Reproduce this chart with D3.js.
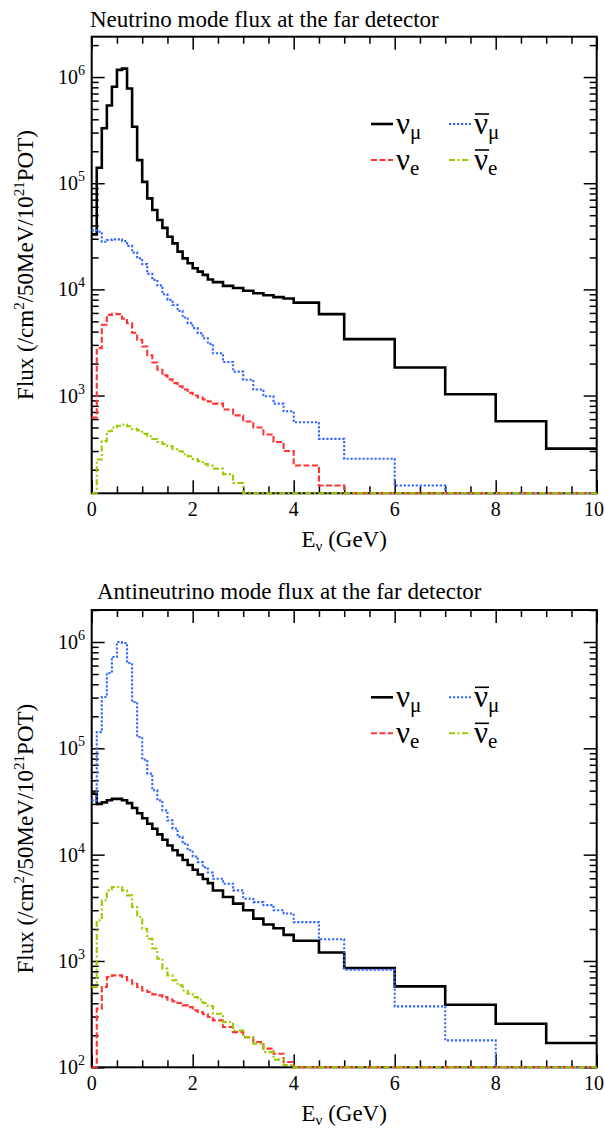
<!DOCTYPE html>
<html>
<head>
<meta charset="utf-8">
<script src="https://cdn.jsdelivr.net/npm/d3@7"></script>
<style>
  html, body { margin: 0; padding: 0; background: #fff; }
  svg { display: block; font-family: "Liberation Serif", "Times New Roman", serif; }
</style>
</head>
<body>
<svg id="chart" width="605" height="1130"></svg>
<script>
// Energy bin edges (GeV)
const binEdges = [0, 0.1, 0.2, 0.3, 0.4, 0.5, 0.6, 0.7, 0.8, 0.9, 1.0, 1.1, 1.2, 1.3, 1.4, 1.5,
  1.6, 1.7, 1.8, 1.9, 2.0, 2.1, 2.2, 2.3, 2.4, 2.6, 2.8, 3.0, 3.2, 3.4, 3.6, 3.8, 4.0, 4.5, 5, 6, 7, 8, 9, 10];

// Neutrino mode flux (/cm^2/50MeV/10^21 POT), one value per bin
const nuModeNumu = [3.3e4, 1.4e5, 3.3e5, 5.4e5, 8.1e5, 1.17e6, 1.2e6, 7.8e5, 3.4e5, 1.65e5,
  1.03e5, 7.2e4, 5.6e4, 4.5e4, 3.8e4, 3.13e4, 2.71e4, 2.27e4, 1.96e4, 1.76e4,
  1.58e4, 1.47e4, 1.37e4, 1.24e4,
  1.17e4, 1.08e4, 1.03e4, 9.7e3, 9.2e3, 8.8e3, 8.45e3, 8.2e3,
  7.5e3, 5.85e3, 3.4e3, 1.84e3, 1.03e3, 573, 316];
const nuModeNumubar = [3.6e4, 3.5e4, 2.81e4, 2.92e4, 2.96e4, 2.96e4, 2.85e4, 2.57e4, 2.22e4, 1.96e4,
  1.73e4, 1.4e4, 1.23e4, 1.09e4, 9.0e3, 7.96e3, 7.14e3, 6.28e3, 5.43e3, 4.81e3,
  4.32e3, 3.87e3, 3.47e3, 3.07e3,
  2.5e3, 2.07e3, 1.68e3, 1.41e3, 1.14e3, 984, 840, 711,
  560, 391, 254, 142, 0, 0, 0];
const nuModeNue = [620, 2.8e3, 4.64e3, 5.75e3, 5.9e3, 5.85e3, 5.3e3, 4.8e3, 3.9e3, 3.35e3,
  2.9e3, 2.4e3, 2.05e3, 1.75e3, 1.55e3, 1.42e3, 1.31e3, 1.22e3, 1.14e3, 1.06e3,
  1.0e3, 960, 920, 880,
  840, 740, 650, 570, 500, 430, 365, 300,
  219, 142, 0, 0, 0, 0, 0];
const nuModeNuebar = [0, 250, 372, 461, 500, 520, 533, 514, 485, 470,
  435, 414, 390, 365, 350, 334, 312, 299, 280, 268,
  252, 241, 226, 218,
  205, 182, 150, 0, 0, 0, 0, 0,
  0, 0, 0, 0, 0, 0, 0];

// Antineutrino mode flux
const antiModeNumu = [3.75e4, 3.0e4, 3.1e4, 3.25e4, 3.35e4, 3.35e4, 3.25e4, 3.05e4, 2.75e4, 2.45e4,
  2.2e4, 1.95e4, 1.75e4, 1.55e4, 1.38e4, 1.22e4, 1.1e4, 9.9e3, 8.9e3, 8.0e3,
  7.2e3, 6.5e3, 5.9e3, 5.4e3,
  4.6e3, 4.0e3, 3.46e3, 3.0e3, 2.5e3, 2.2e3, 2.03e3, 1.76e3,
  1.55e3, 1.2e3, 858, 577, 388, 257, 169];
const antiModeNumubar = [3.24e4, 1.42e5, 3.04e5, 5.11e5, 7.22e5, 1.0e6, 9.8e5, 6.34e5, 2.73e5, 1.28e5,
  7.83e4, 5.78e4, 4.03e4, 3.24e4, 2.61e4, 2.1e4, 1.76e4, 1.47e4, 1.27e4, 1.1e4,
  9.6e3, 8.5e3, 7.6e3, 6.8e3,
  5.94e3, 5.33e3, 4.61e3, 3.85e3, 3.58e3, 3.35e3, 3.0e3, 2.8e3,
  2.32e3, 1.6e3, 828, 374, 179, 0, 0];
const antiModeNue = [0, 356, 569, 706, 732, 732, 706, 658, 611, 569,
  528, 510, 485, 475, 457, 433, 417, 402, 382, 368,
  343, 331, 315, 297,
  276, 239, 214, 192, 173, 150, 134, 112,
  0, 0, 0, 0, 0, 0, 0];
const antiModeNuebar = [569, 2.41e3, 3.72e3, 4.61e3, 4.96e3, 4.96e3, 4.61e3, 4.14e3, 3.21e3, 2.59e3,
  2.01e3, 1.62e3, 1.31e3, 1.05e3, 847, 732, 658, 589, 528, 492,
  457, 433, 402, 377,
  319, 266, 222, 192, 167, 139, 118, 105,
  0, 0, 0, 0, 0, 0, 0];

// Axis ticks and labels
const xMajorTicks = [0, 2, 4, 6, 8, 10];
const xMinorTicks = [0.5, 1, 1.5, 2.5, 3, 3.5, 4.5, 5, 5.5, 6.5, 7, 7.5, 8.5, 9, 9.5];
const panelTitles = ["Neutrino mode flux at the far detector", "Antineutrino mode flux at the far detector"];
const yDomains = [[120, 2.4e6], [100, 2e6]];
const yLabelExponents = [[3, 4, 5, 6], [2, 3, 4, 5, 6]];

const flavours = [
  { key: "numu",    sub: "\u03BC", bar: false, color: "#000000", width: 2.6, dash: null },
  { key: "numubar", sub: "\u03BC", bar: true,  color: "#3366ff", width: 2.1, dash: "2.2,1.8" },
  { key: "nue",     sub: "e",      bar: false, color: "#ff3333", width: 2.1, dash: "6,2.5" },
  { key: "nuebar",  sub: "e",      bar: true,  color: "#99cc00", width: 2.1, dash: "6,2.5,2,2.5" }
];

const panels = [
  { title: panelTitles[0], titleX: 90, titleY: 27, top: 36.7, bottom: 493.3, yDomain: yDomains[0],
    exps: yLabelExponents[0],
    series: { numu: nuModeNumu, numubar: nuModeNumubar, nue: nuModeNue, nuebar: nuModeNuebar } },
  { title: panelTitles[1], titleX: 97, titleY: 599, top: 610, bottom: 1067.3, yDomain: yDomains[1],
    exps: yLabelExponents[1],
    series: { numu: antiModeNumu, numubar: antiModeNumubar, nue: antiModeNue, nuebar: antiModeNuebar } }
];

const svg = d3.select("#chart");
const W = 605;
const left = 91.7, right = 596.7;
const majorLen = 13, minorLen = 7;

function styleTicks(g) {
  g.select(".domain").remove();
  g.selectAll(".tick line").attr("stroke", "#000").attr("stroke-width", 1.5);
  g.selectAll(".tick text").remove();
}

panels.forEach((p) => {
  const g = svg.append("g");
  const x = d3.scaleLinear().domain([0, 10]).range([left, right]);
  const y = d3.scaleLog().domain(p.yDomain).range([p.bottom, p.top]);
  const yMin = p.yDomain[0];

  // decade ticks and the 2..9 x 10^n minor ticks inside the domain
  const yMajor = [], yMinor = [];
  for (let e = 1; e <= 7; e++) {
    const base = Math.pow(10, e);
    if (base >= p.yDomain[0] && base <= p.yDomain[1]) yMajor.push(base);
    for (let k = 2; k <= 9; k++) {
      const v = k * base;
      if (v >= p.yDomain[0] && v <= p.yDomain[1]) yMinor.push(v);
    }
  }

  // title
  g.append("text").attr("x", p.titleX).attr("y", p.titleY)
    .attr("font-size", 23).attr("fill", "#000").text(p.title);

  // frame
  g.append("rect").attr("x", left).attr("y", p.top)
    .attr("width", right - left).attr("height", p.bottom - p.top)
    .attr("fill", "none").attr("stroke", "#000").attr("stroke-width", 2);

  // ticks on all four sides, pointing inward
  const sides = [
    [() => d3.axisBottom(x), `translate(0,${p.bottom})`, xMajorTicks, xMinorTicks],
    [() => d3.axisTop(x), `translate(0,${p.top})`, xMajorTicks, xMinorTicks],
    [() => d3.axisLeft(y), `translate(${left},0)`, yMajor, yMinor],
    [() => d3.axisRight(y), `translate(${right},0)`, yMajor, yMinor]
  ];
  sides.forEach(([mk, tr, maj, min]) => {
    g.append("g").attr("transform", tr)
      .call(mk().tickValues(maj).tickSize(-majorLen).tickFormat(""))
      .call(styleTicks);
    g.append("g").attr("transform", tr)
      .call(mk().tickValues(min).tickSize(-minorLen).tickFormat(""))
      .call(styleTicks);
  });

  // x tick labels (the last one is nudged so it stays on the page)
  g.selectAll(".xlab").data(xMajorTicks).enter().append("text")
    .attr("x", d => Math.min(x(d), W - 11)).attr("y", p.bottom + 23)
    .attr("text-anchor", "middle").attr("font-size", 20).attr("fill", "#000")
    .text(d => d);

  // y tick labels 10^n
  p.exps.forEach(e => {
    const t = g.append("text").attr("x", 85).attr("y", y(Math.pow(10, e)) + 7)
      .attr("text-anchor", "end").attr("font-size", 20).attr("fill", "#000");
    t.append("tspan").text("10");
    t.append("tspan").attr("font-size", 14).attr("dy", -9).text(e);
  });

  // axis titles
  const xt = g.append("text").attr("x", (left + right) / 2).attr("y", p.bottom + 54)
    .attr("text-anchor", "middle").attr("font-size", 23).attr("fill", "#000");
  xt.append("tspan").text("E");
  xt.append("tspan").attr("font-size", 15).attr("dy", 4).text("\u03BD");
  xt.append("tspan").attr("dy", -4).text(" (GeV)");

  const yt = g.append("text")
    .attr("transform", `translate(33,${(p.top + p.bottom) / 2}) rotate(-90)`)
    .attr("text-anchor", "middle").attr("font-size", 23).attr("fill", "#000");
  yt.append("tspan").text("Flux (/cm");
  yt.append("tspan").attr("font-size", 15).attr("dy", -9).text("2");
  yt.append("tspan").attr("dy", 9).text("/50MeV/10");
  yt.append("tspan").attr("font-size", 15).attr("dy", -9).text("21");
  yt.append("tspan").attr("dy", 9).text("POT)");

  // step histograms
  const line = d3.line()
    .x(d => x(d[0]))
    .y(d => y(Math.max(d[1], yMin)))
    .curve(d3.curveStepAfter);
  flavours.forEach(f => {
    const vals = p.series[f.key];
    const pts = binEdges.map((e, i) => [e, vals[Math.min(i, vals.length - 1)]]);
    const path = g.append("path").attr("d", line(pts))
      .attr("fill", "none").attr("stroke", f.color).attr("stroke-width", f.width)
      .attr("stroke-linejoin", "miter");
    if (f.dash) path.attr("stroke-dasharray", f.dash);
  });

  // legend
  const off = p.top - panels[0].top;
  const legendPos = [
    { key: "numu", lx: 371, ly: 124 },
    { key: "numubar", lx: 449, ly: 124 },
    { key: "nue", lx: 371, ly: 160 },
    { key: "nuebar", lx: 449, ly: 160 }
  ];
  legendPos.forEach(lp => {
    const f = flavours.find(d => d.key === lp.key);
    const ly = lp.ly + off;
    const seg = g.append("line").attr("x1", lp.lx).attr("x2", lp.lx + 22)
      .attr("y1", ly).attr("y2", ly)
      .attr("stroke", f.color).attr("stroke-width", f.width);
    if (f.dash) seg.attr("stroke-dasharray", f.dash);
    const tx = lp.lx + 25, base = ly + 9.5;
    const t = g.append("text").attr("x", tx).attr("y", base)
      .attr("font-size", 31).attr("fill", "#000");
    t.append("tspan").text("\u03BD");
    t.append("tspan").attr("font-size", 21).attr("dy", 5).text(f.sub);
    if (f.bar) {
      g.append("line").attr("x1", tx + 1).attr("x2", tx + 15)
        .attr("y1", base - 19.5).attr("y2", base - 19.5)
        .attr("stroke", "#000").attr("stroke-width", 1.6);
    }
  });
});
</script>
</body>
</html>
